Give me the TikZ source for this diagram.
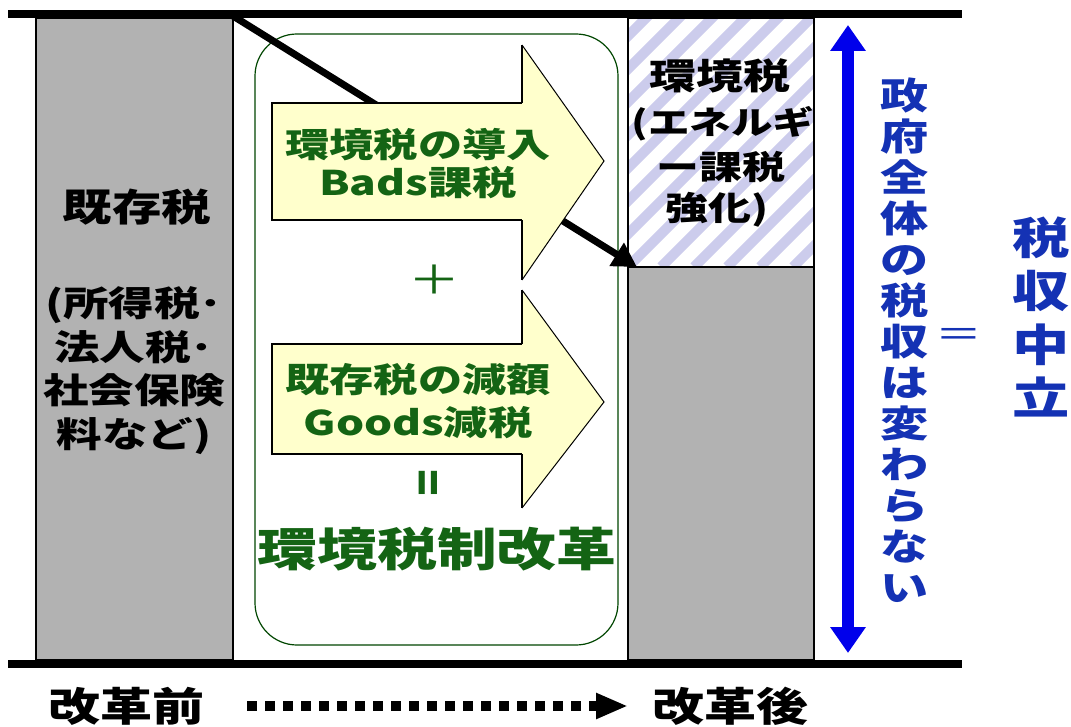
\documentclass[tikz,border=0pt]{standalone}
\usepackage{fontspec}
\newfontfamily\jp{Noto Sans CJK JP}[FakeStretch=1.3]
\usetikzlibrary{arrows.meta}
\definecolor{barGray}{RGB}{178,178,178}
\definecolor{dkGreen}{RGB}{20,100,20}
\definecolor{frameGreen}{RGB}{0,70,0}
\definecolor{paleYellow}{RGB}{255,255,204}
\definecolor{arrowBlue}{RGB}{0,0,235}
\definecolor{txtBlue}{RGB}{20,50,180}
\definecolor{stripeCol}{RGB}{204,204,236}
\begin{document}
\begin{tikzpicture}[x=1pt,y=-1pt,
  every node/.style={inner sep=0pt, outer sep=0pt},
  jtext/.style n args={2}{font={\jp\bfseries\fontsize{#1pt}{#2pt}\selectfont}, align=center},
  jlight/.style n args={2}{font={\jp\fontsize{#1pt}{#2pt}\selectfont}, align=center},
  blacktxt/.style={text=black},
  greentxt/.style={text=dkGreen},
  bluetxt/.style={text=txtBlue},
  barbox/.style={draw=black, line width=2.5pt, fill=barGray, anchor=north west},
  axisline/.style={line width=8pt},
  bodyedge/.style={line width=2.5pt},
  headedge/.style={line width=1pt},
]
\useasboundingbox (0,0) rectangle (1071,727);
\fill[white] (0,0) rectangle (1071,727);

% rounded frame of the reform
\node[draw=frameGreen, line width=1.2pt, rounded corners=42pt,
      minimum width=363pt, minimum height=611pt] (reform) at (436.5,339.5) {};

% left bar: existing taxes
\node[barbox, minimum width=197pt, minimum height=642pt] (oldtax) at (36,18) {};

% right box: environmental tax (striped)
\node[draw=black, line width=2.5pt, anchor=north west,
      minimum width=186pt, minimum height=249pt,
      path picture={
        \foreach \k in {-9,...,7}
          \draw[stripeCol, line width=10pt]
            ([xshift=\k*33pt]path picture bounding box.south west) -- ++(270,-270);
      }] (envtax) at (628,18) {};
% right gray part
\node[barbox, minimum width=186pt, minimum height=393pt] (newtax) at (628,267) {};

% top and bottom lines
\coordinate (topL) at (8,14);
\coordinate (topR) at (962,14);
\coordinate (botL) at (8,664);
\coordinate (botR) at (962,664);
\draw[axisline] (topL) -- (topR);
\draw[axisline] (botL) -- (botR);

% diagonal black arrow
\draw[line width=7pt, -{Triangle[length=24pt,width=26pt]}]
  ([yshift=2pt]oldtax.north east) -- ([xshift=9pt]newtax.north west);

% yellow arrow 1
\fill[paleYellow] (272,103) -- (522,103) -- (522,45) -- (604,161) -- (522,280) -- (522,220) -- (272,220) -- cycle;
\draw[bodyedge] (522,103) -- (272,103) -- (272,220) -- (522,220);
\draw[bodyedge] (522,103) -- (522,45);
\draw[bodyedge] (522,220) -- (522,280);
\draw[headedge] (522,45) -- (604,161) -- (522,280);

% yellow arrow 2
\fill[paleYellow] (272,344) -- (522,344) -- (522,290) -- (604,402) -- (522,508) -- (522,454) -- (272,454) -- cycle;
\draw[bodyedge] (522,344) -- (272,344) -- (272,454) -- (522,454);
\draw[bodyedge] (522,344) -- (522,290);
\draw[bodyedge] (522,454) -- (522,508);
\draw[headedge] (522,290) -- (604,402) -- (522,508);

% texts in left bar
\node[jtext={38}{38}, blacktxt] (oldlbl) at (137,207) {既存税};
\node[jtext={35}{43.7}, blacktxt] (oldsub) at (134,370.5) {(所得税･\\法人税･\\社会保険\\料など)};

% texts in arrows
\node[jtext={34}{38}, greentxt] (a1txt) at (418,164) {環境税の導入\\Bads課税};
\node[jtext={34}{43}, greentxt] (a2txt) at (418,401.5) {既存税の減額\\Goods減税};
\node[jlight={40}{40}, greentxt] (plus) at (434,280) {＋};
\node[jtext={34}{34}, greentxt, rotate=90] (eqv) at (434,483) {\scalebox{0.75}[1.5]{＝}};
\node[jtext={46}{46}, greentxt] (reformlbl) at (437,549) {環境税制改革};

% texts in right box
\node[jtext={36}{36}, blacktxt] (envlbl1) at (720,76) {環境税};
\node[jtext={32}{32}, blacktxt] (envlbl2) at (723,124) {(エネルギ};
\node[jtext={33}{33}, blacktxt] (envlbl3) at (721,167) {ー課税};
\node[jtext={33}{33}, blacktxt] (envlbl4) at (717,210) {強化)};

% blue double arrow and texts
\coordinate (vTop) at (848,25);
\coordinate (vBot) at (848,653);
\draw[arrowBlue, line width=12pt,
      {Triangle[length=26pt,width=34pt]}-{Triangle[length=26pt,width=34pt]}] (vTop) -- (vBot);
\node[jtext={37}{41}, bluetxt] (vtxt) at (905,340.5)
  {政\\府\\全\\体\\の\\税\\収\\は\\変\\わ\\ら\\な\\い};
\node[jlight={36}{36}, bluetxt] (eqb) at (959,338) {＝};
\node[jtext={44}{53.3}, bluetxt] (neutral) at (1041,317) {税\\収\\中\\立};

% bottom: before -> after
\node[jtext={40}{40}, blacktxt] (before) at (126,706) {改革前};
\node[jtext={40}{40}, blacktxt] (after) at (730,706) {改革後};
\draw[line width=10pt, dash pattern=on 10pt off 8pt,
      -{Triangle[length=32pt,width=24pt]}, shorten <=43pt, shorten >=24pt] (before) -- (after);
\end{tikzpicture}
\end{document}
